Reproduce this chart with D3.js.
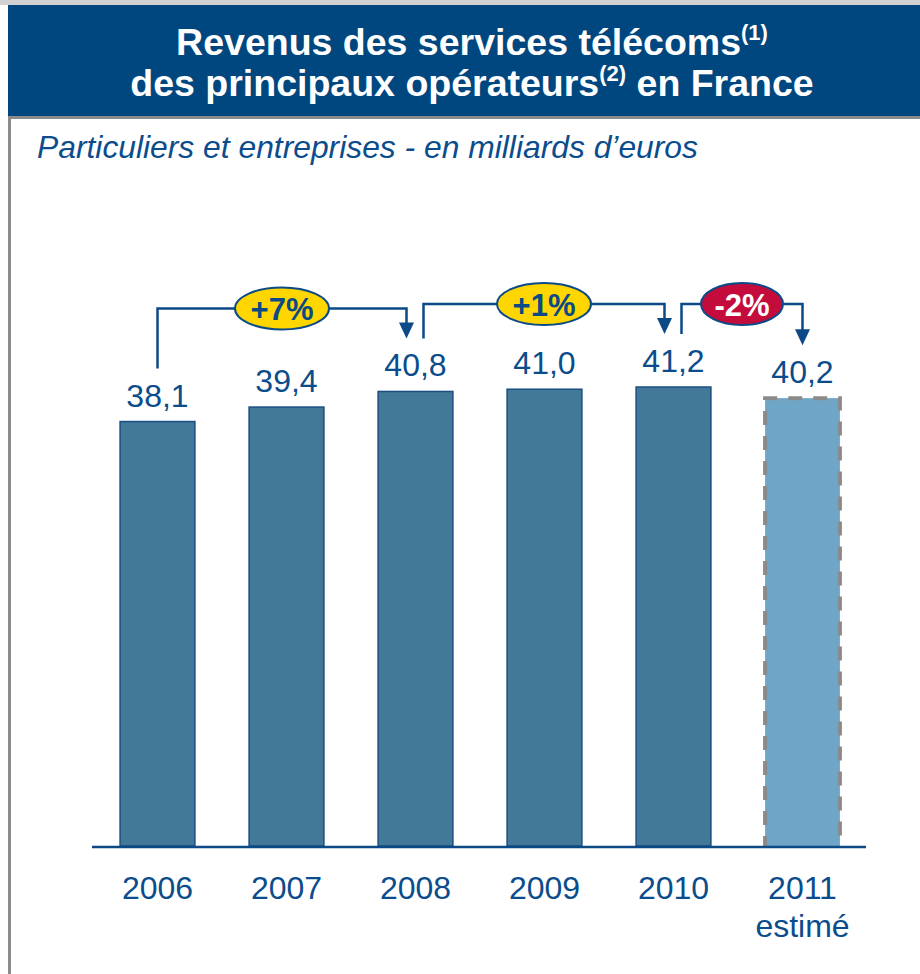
<!DOCTYPE html>
<html>
<head>
<meta charset="utf-8">
<script src="https://cdn.jsdelivr.net/npm/d3@7"></script>
<style>
  body { margin: 0; background: #fff; }
  svg { display: block; font-family: Arial, "Liberation Sans", sans-serif; }
</style>
</head>
<body>
<script>
  // data
  var years = ["2006", "2007", "2008", "2009", "2010", "2011"];
  var yearNotes = ["", "", "", "", "", "estimé"];
  var values = [38.1, 39.4, 40.8, 41.0, 41.2, 40.2];
  var estimated = [false, false, false, false, false, true];
  var changeFrom = [0, 2, 4];
  var changeTo = [2, 4, 5];
  var changeLabels = ["+7%", "+1%", "-2%"];
  var changeFills = ["#ffd600", "#ffd600", "#c40c3c"];
  var changeText = ["#0b4a86", "#0b4a86", "#ffffff"];

  var blue = "#0b4d8c";
  var width = 920, height = 974;

  var svg = d3.select("body").append("svg")
    .attr("width", width)
    .attr("height", height);

  // frame + title banner
  svg.append("rect").attr("x", 0).attr("y", 0).attr("width", width).attr("height", 5).attr("fill", "#d2d2d2");
  svg.append("rect").attr("x", 8).attr("y", 5).attr("width", 3).attr("height", height - 5).attr("fill", "#8c8c8c");
  svg.append("rect").attr("x", 8).attr("y", 5).attr("width", width - 8).attr("height", 112).attr("fill", "#01477f");
  svg.append("rect").attr("x", 8).attr("y", 116).attr("width", width - 8).attr("height", 3).attr("fill", "#8c8c8c");

  var title = svg.append("text")
    .attr("x", 472)
    .attr("text-anchor", "middle")
    .attr("fill", "#fff")
    .attr("font-weight", "bold")
    .attr("font-size", 37.5);
  var l1 = title.append("tspan").attr("x", 472).attr("y", 55);
  l1.append("tspan").text("Revenus des services télécoms");
  l1.append("tspan").attr("font-size", 22).attr("dy", -15).text("(1)");
  var l2 = title.append("tspan").attr("x", 472).attr("y", 96);
  l2.append("tspan").text("des principaux opérateurs");
  l2.append("tspan").attr("font-size", 22).attr("dy", -15).text("(2)");
  l2.append("tspan").attr("dy", 15).text(" en France");

  svg.append("text")
    .attr("x", 37)
    .attr("y", 158)
    .attr("fill", blue)
    .attr("font-style", "italic")
    .attr("font-size", 31.8)
    .text("Particuliers et entreprises - en milliards d’euros");

  // scales
  var x = d3.scaleBand()
    .domain(years)
    .range([93, 867])
    .paddingInner(0.42)
    .paddingOuter(0.21);

  var y = d3.scaleLinear()
    .domain([0, 41.2])
    .range([846, 387]);

  // bars
  var bars = svg.append("g");
  bars.selectAll("rect")
    .data(values)
    .enter()
    .append("rect")
    .attr("x", function(d, i) { return x(years[i]); })
    .attr("y", function(d) { return y(d); })
    .attr("width", x.bandwidth())
    .attr("height", function(d) { return y(0) - y(d); })
    .attr("fill", function(d, i) { return estimated[i] ? "#6fa6c7" : "#427898"; })
    .attr("stroke", function(d, i) { return estimated[i] ? "none" : "#1b4f82"; })
    .attr("stroke-width", 1.5);

  // dashed outline on estimated bar (top and sides only)
  values.forEach(function(d, i) {
    if (!estimated[i]) return;
    var x0 = x(years[i]), x1 = x0 + x.bandwidth(), y0 = y(d), yb = y(0);
    svg.append("path")
      .attr("d", "M" + x0 + "," + yb + "V" + y0 + "H" + x1 + "V" + yb)
      .attr("fill", "none")
      .attr("stroke", "#8a8a8a")
      .attr("stroke-width", 4)
      .attr("stroke-dasharray", "14,11")
      .attr("stroke-dashoffset", 4);
  });

  // baseline
  svg.append("line")
    .attr("x1", 92).attr("x2", 866)
    .attr("y1", y(0) + 1).attr("y2", y(0) + 1)
    .attr("stroke", "#0b4a86")
    .attr("stroke-width", 2.5);

  // value labels
  svg.append("g").selectAll("text")
    .data(values)
    .enter()
    .append("text")
    .attr("x", function(d, i) { return x(years[i]) + x.bandwidth() / 2; })
    .attr("y", function(d) { return y(d) - 15; })
    .attr("text-anchor", "middle")
    .attr("fill", blue)
    .attr("font-size", 32)
    .text(function(d) { return d.toFixed(1).replace(".", ","); });

  // x axis labels
  var xAxis = d3.axisBottom(x).tickSize(0).tickPadding(0);
  var gx = svg.append("g")
    .attr("transform", "translate(0," + y(0) + ")")
    .call(xAxis);
  gx.select(".domain").remove();
  gx.selectAll(".tick text")
    .attr("y", 53)
    .attr("dy", 0)
    .attr("fill", blue)
    .attr("font-size", 32)
    .attr("font-family", "Arial, 'Liberation Sans', sans-serif");
  gx.selectAll(".tick").each(function(d, i) {
    if (!yearNotes[i]) return;
    d3.select(this).append("text")
      .attr("y", 91)
      .attr("text-anchor", "middle")
      .attr("fill", blue)
      .attr("font-size", 32)
      .attr("font-family", "Arial, 'Liberation Sans', sans-serif")
      .text(yearNotes[i]);
  });

  // change brackets
  var notes = svg.append("g");
  function endY(i) { return y(values[i]) - 53; }
  changeLabels.forEach(function(lab, k) {
    var a = changeFrom[k], b = changeTo[k];
    var xa = x(years[a]) + x.bandwidth() / 2;
    var xb = x(years[b]) + x.bandwidth() / 2;
    if (changeTo.indexOf(a) >= 0) xa += 8;
    if (changeFrom.indexOf(b) >= 0) xb -= 9;
    var ya = endY(a), yb = endY(b);
    var yl = Math.min(ya, yb) - 30;
    notes.append("path")
      .attr("d", "M" + xa + "," + ya + "V" + yl + "H" + xb + "V" + (yb - 14))
      .attr("fill", "none")
      .attr("stroke", "#0b4a86")
      .attr("stroke-width", 2.5);
    notes.append("path")
      .attr("d", "M" + (xb - 7.5) + "," + (yb - 16) + "L" + (xb + 7.5) + "," + (yb - 16) + "L" + xb + "," + yb + "Z")
      .attr("fill", "#0b4a86");
    var cx = (xa + xb) / 2;
    var rx = lab.charAt(0) === "-" ? 41 : 47;
    notes.append("ellipse")
      .attr("cx", cx).attr("cy", yl)
      .attr("rx", rx).attr("ry", 21)
      .attr("fill", changeFills[k])
      .attr("stroke", "#0b4a86")
      .attr("stroke-width", 2);
    notes.append("text")
      .attr("x", cx).attr("y", yl + 11.5)
      .attr("text-anchor", "middle")
      .attr("fill", changeText[k])
      .attr("font-weight", "bold")
      .attr("font-size", 31)
      .text(lab);
  });
</script>
</body>
</html>
